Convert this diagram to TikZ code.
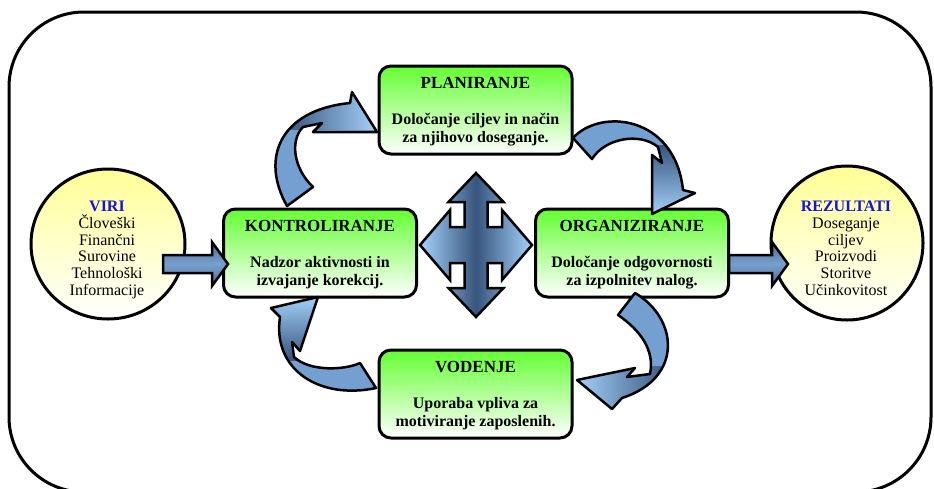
\documentclass[tikz,border=0pt]{standalone}
\usepackage{fontspec}
\setmainfont{Liberation Serif}
\usetikzlibrary{calc,shapes.geometric}
\definecolor{bodyblue}{RGB}{115,160,208}
\definecolor{hlight}{RGB}{165,210,252}
\definecolor{hdark}{RGB}{55,85,125}
\definecolor{boxgreen}{RGB}{100,255,50}
\definecolor{circyellow}{RGB}{255,255,150}
\definecolor{titleblue}{RGB}{20,20,225}
\definecolor{sbmid}{RGB}{120,160,205}
\definecolor{sbedge}{RGB}{75,108,148}
\tikzset{
  stepbox/.style={draw=black, line width=3pt, rounded corners=12pt, top color=boxgreen, bottom color=white, minimum width=193pt, minimum height=88pt, inner sep=0pt},
  ttl/.style={font=\fontsize{17}{20}\selectfont\bfseries, inner sep=0pt, anchor=base},
  bodytxt/.style={font=\fontsize{16}{18}\selectfont\bfseries, inner sep=0pt, anchor=base},
  circnode/.style={draw=black, line width=3pt, ellipse, top color=circyellow, bottom color=white, inner sep=0pt},
  circtxt/.style={font=\fontsize{16}{17}\selectfont, inner sep=0pt, anchor=base},
  circttl/.style={font=\fontsize{16}{17}\selectfont\bfseries, text=titleblue, inner sep=0pt, anchor=base},
  blockarrow/.style={draw=black, line width=2.5pt, line join=miter},
  curvearrow/.style={draw=black, line width=2.5pt, line join=round},
}
\def\arrA{(287,206) .. controls (260,158) and (280,110) .. (350,103) -- (352,92) -- (377,132) -- (313,132) -- (322,123) -- (303,127) .. controls (290,140) and (293,168) .. (313,187) -- cycle}
\def\arrB{(573,138) .. controls (600,108) and (675,115) .. (683,190) -- (695,193) -- (652,214) -- (652,155) -- (662,163) -- (658,147) .. controls (640,132) and (605,138) .. (592,159) -- cycle}
\def\arrC{(635,293) .. controls (678,318) and (684,378) .. (622,398) -- (612,409) -- (577,380) -- (635,368) -- (627,377) -- (650,374) .. controls (655,350) and (640,330) .. (618,315) -- cycle}
\def\arrD{(376,388) .. controls (320,400) and (272,370) .. (280,317) -- (271,308) -- (318,297) -- (300,351) -- (292,342) -- (294,357) .. controls (310,372) and (345,370) .. (360,363) -- cycle}
\begin{document}
\begin{tikzpicture}[x=1pt,y=-1pt]
\useasboundingbox (0,0) rectangle (934,488);
% outer frame
\draw[line width=3pt, rounded corners=75pt] (9,12) rectangle (931,492);

% central four-way arrow
\draw[blockarrow, left color=hlight, right color=hlight, middle color=hdark, shift={(476,245)}]
  (0,-72) -- (27.5,-43) -- (11.5,-43) -- (11.5,-18) -- (26,-18) -- (26,-35) -- (56,0)
  -- (26,35) -- (26,18) -- (11.5,18) -- (11.5,43) -- (27.5,43) -- (0,72)
  -- (-27.5,43) -- (-11.5,43) -- (-11.5,18) -- (-26,18) -- (-26,35) -- (-56,0)
  -- (-26,-35) -- (-26,-18) -- (-11.5,-18) -- (-11.5,-43) -- (-27.5,-43) -- cycle;

% resources and results
\node[circnode, minimum width=154pt, minimum height=150pt] (viri) at (108,244) {};
\node[circnode, minimum width=152pt, minimum height=154pt] (rez) at (847,243) {};
\node[circttl] (viri-t) at (107,211.7) {VIRI};
\foreach \t [count=\i] in {Človeški,Finančni,Surovine,Tehnološki,Informacije}
  \node[circtxt] (viri-l\i) at (107,{211.7+16.67*\i}) {\t};
\node[circttl] (rez-t) at (846,211.7) {REZULTATI};
\foreach \t [count=\i] in {Doseganje,ciljev,Proizvodi,Storitve,Učinkovitost}
  \node[circtxt] (rez-l\i) at (846,{211.7+16.67*\i}) {\t};

% process boxes
\node[stepbox] (plan) at (475.5,110) {};
\node[stepbox] (kontrol) at (320,253) {};
\node[stepbox] (org) at (632,253) {};
\node[stepbox] (voden) at (475.5,394) {};

\node[ttl] (plan-t) at ($(plan.north)+(0,24)$) {PLANIRANJE};
\node[bodytxt] (plan-b1) at ($(plan.north)+(0,60)$) {Določanje ciljev in način};
\node[bodytxt] (plan-b2) at ($(plan.north)+(0,78)$) {za njihovo doseganje.};

\node[ttl] (kontrol-t) at ($(kontrol.north)+(0,24)$) {KONTROLIRANJE};
\node[bodytxt] (kontrol-b1) at ($(kontrol.north)+(0,60)$) {Nadzor aktivnosti in};
\node[bodytxt] (kontrol-b2) at ($(kontrol.north)+(0,78)$) {izvajanje korekcij.};

\node[ttl] (org-t) at ($(org.north)+(0,24)$) {ORGANIZIRANJE};
\node[bodytxt] (org-b1) at ($(org.north)+(0,60)$) {Določanje odgovornosti};
\node[bodytxt] (org-b2) at ($(org.north)+(0,78)$) {za izpolnitev nalog.};

\node[ttl] (voden-t) at ($(voden.north)+(0,24)$) {VODENJE};
\node[bodytxt] (voden-b1) at ($(voden.north)+(0,60)$) {Uporaba vpliva za};
\node[bodytxt] (voden-b2) at ($(voden.north)+(0,78)$) {motiviranje zaposlenih.};

% straight block arrows
\draw[blockarrow, top color=sbedge, bottom color=sbedge, middle color=sbmid]
  (163,255) -- (212,255) -- (212,242) -- (228,264) -- (212,286) -- (212,273) -- (163,273) -- cycle;
\draw[blockarrow, top color=sbedge, bottom color=sbedge, middle color=sbmid]
  (729,255) -- (772,255) -- (772,242) -- (788,264) -- (772,286) -- (772,273) -- (729,273) -- cycle;

% curved arrows
\fill[bodyblue] \arrA;
\begin{scope}\clip \arrA; \shade[left color=hdark, right color=hlight] (285,85) rectangle (378,129); \end{scope}
\draw[curvearrow] \arrA;

\fill[bodyblue] \arrB;
\begin{scope}\clip \arrB; \shade[top color=hdark, bottom color=hlight] (648,145) rectangle (700,216); \end{scope}
\draw[curvearrow] \arrB;

\fill[bodyblue] \arrC;
\begin{scope}\clip \arrC; \shade[left color=hlight, right color=hdark] (575,366) rectangle (670,412); \end{scope}
\draw[curvearrow] \arrC;

\fill[bodyblue] \arrD;
\begin{scope}\clip \arrD; \shade[top color=hlight, bottom color=hdark] (268,295) rectangle (322,360); \end{scope}
\draw[curvearrow] \arrD;
\end{tikzpicture}
\end{document}
